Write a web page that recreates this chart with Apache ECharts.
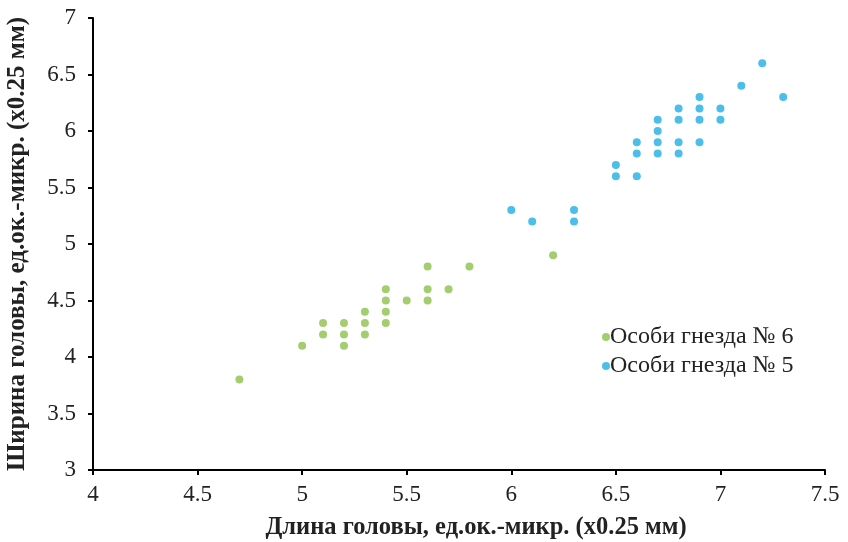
<!DOCTYPE html>
<html>
<head>
<meta charset="utf-8">
<script src="https://cdn.jsdelivr.net/npm/echarts@6/dist/echarts.min.js"></script>
<style>
  html, body { margin: 0; padding: 0; background: #fff; }
  #chart { width: 848px; height: 542px; }
</style>
</head>
<body>
<div id="chart"></div>
<script>
// Head length (x) and head width (y), ocular-micrometer units
const nest6Length = [4.7, 5.0, 5.1, 5.1, 5.2, 5.2, 5.2, 5.3, 5.3, 5.3, 5.4, 5.4, 5.4, 5.4, 5.5, 5.6, 5.6, 5.6, 5.7, 5.8, 6.2];
const nest6Width  = [3.8, 4.1, 4.3, 4.2, 4.3, 4.2, 4.1, 4.4, 4.3, 4.2, 4.6, 4.5, 4.4, 4.3, 4.5, 4.8, 4.6, 4.5, 4.6, 4.8, 4.9];

const nest5Length = [6.0, 6.1, 6.3, 6.3, 6.5, 6.5, 6.6, 6.6, 6.6, 6.7, 6.7, 6.7, 6.7, 6.8, 6.8, 6.8, 6.8, 6.9, 6.9, 6.9, 6.9, 7.0, 7.0, 7.1, 7.2, 7.3];
const nest5Width  = [5.3, 5.2, 5.3, 5.2, 5.7, 5.6, 5.9, 5.8, 5.6, 6.1, 6.0, 5.9, 5.8, 6.2, 6.1, 5.9, 5.8, 6.3, 6.2, 6.1, 5.9, 6.2, 6.1, 6.4, 6.6, 6.3];

const seriesNames = ['Особи гнезда № 6', 'Особи гнезда № 5'];
const xTitle = 'Длина головы, ед.ок.-микр. (x0.25 мм)';
const yTitle = 'Ширина головы, ед.ок.-микр. (x0.25 мм)';

const pairs = (xs, ys) => xs.map((x, i) => [x, ys[i]]);

const serif = '"Liberation Serif", "Times New Roman", serif';
const axisCommon = {
  type: 'value',
  interval: 0.5,
  axisLine: { show: true, lineStyle: { color: '#000', width: 2 } },
  axisTick: { show: true, length: 5, lineStyle: { color: '#000', width: 2 } },
  splitLine: { show: false },
  axisLabel: { color: '#222', fontFamily: serif, fontSize: 23 },
  nameLocation: 'middle',
  nameTextStyle: { color: '#222', fontFamily: serif, fontSize: 24, fontWeight: 'bold' }
};

const chart = echarts.init(document.getElementById('chart'), null, { renderer: 'canvas' });
chart.setOption({
  animation: false,
  backgroundColor: '#fff',
  grid: { left: 93, right: 23, top: 18, bottom: 72, containLabel: false, outerBoundsMode: 'none' },
  xAxis: Object.assign({}, axisCommon, {
    min: 4, max: 7.5, name: xTitle, nameGap: 45,
    nameTextStyle: Object.assign({}, axisCommon.nameTextStyle, { fontSize: 24.5, padding: [0, 0, 0, 34] }),
    axisLabel: Object.assign({}, axisCommon.axisLabel, { margin: 13 })
  }),
  yAxis: Object.assign({}, axisCommon, {
    min: 3, max: 7, name: yTitle, nameGap: 63,
    nameTextStyle: Object.assign({}, axisCommon.nameTextStyle, { fontSize: 25 }),
    axisLabel: Object.assign({}, axisCommon.axisLabel, { margin: 17 })
  }),
  legend: {
    orient: 'vertical',
    left: 597, top: 320,
    itemWidth: 8, itemHeight: 8, itemGap: 5,
    icon: 'circle',
    textStyle: { color: '#222', fontFamily: serif, fontSize: 24, padding: [0, 0, 0, -5] },
    data: seriesNames
  },
  series: [
    {
      name: seriesNames[0], type: 'scatter', symbol: 'circle', symbolSize: 8,
      itemStyle: { color: '#8CC04A' },
      data: pairs(nest6Length, nest6Width)
    },
    {
      name: seriesNames[1], type: 'scatter', symbol: 'circle', symbolSize: 8,
      itemStyle: { color: '#1FAEE5' },
      data: pairs(nest5Length, nest5Width)
    }
  ]
});
</script>
</body>
</html>
